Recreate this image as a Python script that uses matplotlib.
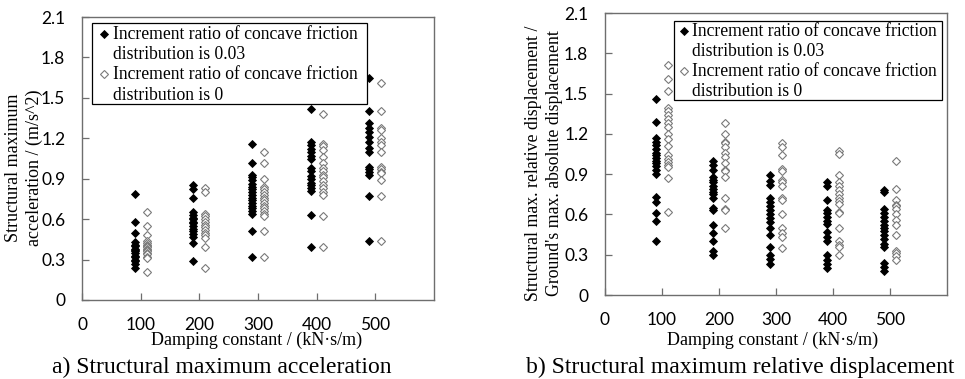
import matplotlib
matplotlib.use("Agg")
import matplotlib.pyplot as plt
from matplotlib.patches import Rectangle
import numpy as np

# Damping constants (kN·s/m) of the five test groups
damping = [100, 200, 300, 400, 500]

# Structural maximum acceleration (m/s^2), increment ratio 0.03
acc_r003 = [
    [0.79, 0.58, 0.50, 0.43, 0.41, 0.40, 0.38, 0.37, 0.36, 0.35, 0.33, 0.32, 0.30, 0.29, 0.27, 0.24],
    [0.85, 0.82, 0.76, 0.65, 0.63, 0.61, 0.60, 0.58, 0.57, 0.55, 0.53, 0.51, 0.49, 0.47, 0.42, 0.29],
    [1.16, 1.02, 0.93, 0.91, 0.89, 0.86, 0.84, 0.82, 0.80, 0.78, 0.76, 0.74, 0.72, 0.70, 0.68, 0.66, 0.64, 0.51, 0.32],
    [1.42, 1.17, 1.15, 1.12, 1.10, 1.07, 1.05, 0.98, 0.96, 0.92, 0.90, 0.87, 0.85, 0.83, 0.81, 0.63, 0.39],
    [1.65, 1.40, 1.31, 1.28, 1.25, 1.21, 1.17, 1.13, 1.10, 0.99, 0.97, 0.95, 0.93, 0.77, 0.44],
]
# Structural maximum acceleration (m/s^2), increment ratio 0
acc_r0 = [
    [0.65, 0.55, 0.48, 0.44, 0.42, 0.41, 0.40, 0.39, 0.38, 0.37, 0.36, 0.35, 0.34, 0.32, 0.31, 0.21],
    [0.83, 0.80, 0.64, 0.62, 0.60, 0.58, 0.56, 0.54, 0.52, 0.50, 0.48, 0.46, 0.39, 0.24],
    [1.10, 1.02, 0.90, 0.84, 0.82, 0.80, 0.78, 0.76, 0.74, 0.72, 0.70, 0.68, 0.66, 0.64, 0.62, 0.51, 0.32],
    [1.38, 1.16, 1.14, 1.11, 1.06, 1.02, 0.98, 0.96, 0.93, 0.91, 0.88, 0.85, 0.83, 0.80, 0.78, 0.62, 0.39],
    [1.61, 1.40, 1.28, 1.26, 1.20, 1.17, 1.15, 1.10, 0.99, 0.97, 0.95, 0.94, 0.89, 0.77, 0.44],
]

# Structural max. relative displacement / ground's max. absolute displacement, ratio 0.03
disp_r003 = [
    [1.46, 1.29, 1.17, 1.14, 1.12, 1.09, 1.06, 1.04, 1.02, 1.00, 0.98, 0.96, 0.93, 0.90, 0.73, 0.69, 0.61, 0.55, 0.40],
    [1.00, 0.97, 0.93, 0.88, 0.86, 0.84, 0.81, 0.79, 0.77, 0.75, 0.72, 0.65, 0.63, 0.52, 0.46, 0.40, 0.33, 0.30],
    [0.89, 0.85, 0.82, 0.72, 0.69, 0.66, 0.63, 0.60, 0.57, 0.54, 0.50, 0.45, 0.36, 0.30, 0.27, 0.23],
    [0.84, 0.81, 0.71, 0.63, 0.61, 0.58, 0.55, 0.53, 0.47, 0.43, 0.40, 0.30, 0.26, 0.23, 0.20],
    [0.78, 0.77, 0.64, 0.61, 0.58, 0.55, 0.52, 0.50, 0.48, 0.45, 0.42, 0.38, 0.36, 0.24, 0.21, 0.18],
]
# Same displacement ratio, increment ratio 0
disp_r0 = [
    [1.71, 1.61, 1.52, 1.39, 1.37, 1.34, 1.31, 1.28, 1.25, 1.20, 1.16, 1.11, 1.04, 1.01, 0.99, 0.97, 0.95, 0.87, 0.62],
    [1.28, 1.20, 1.14, 1.13, 1.10, 1.06, 1.03, 0.98, 0.93, 0.92, 0.88, 0.72, 0.64, 0.63, 0.50],
    [1.13, 1.10, 1.04, 0.94, 0.92, 0.86, 0.84, 0.81, 0.72, 0.71, 0.60, 0.50, 0.46, 0.43, 0.35],
    [1.07, 1.05, 0.89, 0.84, 0.81, 0.78, 0.75, 0.72, 0.70, 0.68, 0.62, 0.61, 0.50, 0.40, 0.37, 0.36, 0.30],
    [1.00, 0.79, 0.71, 0.67, 0.66, 0.64, 0.60, 0.56, 0.52, 0.45, 0.33, 0.31, 0.29, 0.26],
]

x_ticks = [0, 100, 200, 300, 400, 500]
x_tick_labels = ["0", "100", "200", "300", "400", "500"]
y_ticks = [0, 0.3, 0.6, 0.9, 1.2, 1.5, 1.8, 2.1]
y_tick_labels = ["0", "0.3", "0.6", "0.9", "1.2", "1.5", "1.8", "2.1"]

legend_lines_003 = ["Increment ratio of concave friction", "distribution is 0.03"]
legend_lines_0 = ["Increment ratio of concave friction", "distribution is 0"]

x_label = "Damping constant / (kN\u00b7s/m)"
y_label_acc = "Structural maximum\nacceleration / (m/s^2)"
y_label_disp = "Structural max. relative displacement /\nGround's max. absolute displacement"
caption_acc = "a) Structural maximum acceleration"
caption_disp = "b) Structural maximum relative displacement"

SERIF = ["Liberation Serif", "DejaVu Serif"]
TICKFONT = ["Lato", "DejaVu Sans"]
FRAME = "#6e6e6e"
OPEN_EDGE = "#7a7a7a"
SHIFT = 10  # horizontal separation of the two series around each damping value

filled = dict(marker="D", linestyle="none", markersize=4.4,
              markerfacecolor="black", markeredgecolor="black", markeredgewidth=0.6)
hollow = dict(marker="D", linestyle="none", markersize=4.4,
              markerfacecolor="white", markeredgecolor=OPEN_EDGE, markeredgewidth=0.8)

fig = plt.figure(figsize=(9.65, 3.79), dpi=100)
ax1 = fig.add_axes([82 / 965, 79 / 379, 352 / 965, 283 / 379])
ax2 = fig.add_axes([605 / 965, 84 / 379, 342 / 965, 282 / 379])


def scatter_groups(ax, series_a, series_b):
    for d, vals in zip(damping, series_a):
        ax.plot(np.full(len(vals), d - SHIFT), vals, **filled, clip_on=False, zorder=3)
    for d, vals in zip(damping, series_b):
        ax.plot(np.full(len(vals), d + SHIFT), vals, **hollow, clip_on=False, zorder=3)


def style_axes(ax):
    ax.set_xlim(0, 600)
    ax.set_ylim(0, 2.1)
    ax.set_xticks(x_ticks)
    ax.set_xticklabels(x_tick_labels, fontfamily=TICKFONT, fontsize=12.5)
    ax.set_yticks(y_ticks)
    ax.set_yticklabels(y_tick_labels, fontfamily=TICKFONT, fontsize=12.5)
    ax.tick_params(axis="both", direction="in", length=5, width=0.9, color=FRAME)
    ax.tick_params(axis="x", pad=12)
    ax.tick_params(axis="y", pad=12)
    for sp in ax.spines.values():
        sp.set_color(FRAME)
        sp.set_linewidth(1.0)


def draw_key(ax, box, marker_x, text_x, line_ys):
    x0, y0, x1, y1 = box
    ax.add_patch(Rectangle((x0, y0), x1 - x0, y1 - y0, transform=ax.transAxes,
                           facecolor="white", edgecolor="black", linewidth=0.9,
                           zorder=5, clip_on=False))
    ax.plot([marker_x], [line_ys[0]], transform=ax.transAxes, **filled, zorder=6, clip_on=False)
    ax.plot([marker_x], [line_ys[2]], transform=ax.transAxes, **hollow, zorder=6, clip_on=False)
    for y, s in zip(line_ys, legend_lines_003 + legend_lines_0):
        ax.text(text_x, y, s, transform=ax.transAxes, ha="left", va="center",
                fontfamily=SERIF, fontsize=12.7, zorder=6)


scatter_groups(ax1, acc_r003, acc_r0)
scatter_groups(ax2, disp_r003, disp_r0)
style_axes(ax1)
style_axes(ax2)

draw_key(ax1, (0.028, 0.693, 0.810, 0.979), 0.0625, 0.088, [0.939, 0.868, 0.797, 0.724])
draw_key(ax2, (0.202, 0.691, 0.985, 0.972), 0.232, 0.255, [0.936, 0.865, 0.794, 0.723])

# axis titles and captions
fig.text(257 / 965, 1 - 340 / 379, x_label, ha="center", va="center", fontfamily=SERIF, fontsize=13)
fig.text(773 / 965, 1 - 340 / 379, x_label, ha="center", va="center", fontfamily=SERIF, fontsize=13)
fig.text(24 / 965, 1 - 168 / 379, y_label_acc, ha="center", va="center", rotation=90,
         fontfamily=SERIF, fontsize=13, linespacing=1.25)
fig.text(544 / 965, 1 - 163 / 379, y_label_disp, ha="center", va="center", rotation=90,
         fontfamily=SERIF, fontsize=12.8, linespacing=1.25)
fig.text(222 / 965, 1 - 367 / 379, caption_acc, ha="center", va="center", fontfamily=SERIF, fontsize=17)
fig.text(740 / 965, 1 - 367 / 379, caption_disp, ha="center", va="center", fontfamily=SERIF, fontsize=17)

fig.savefig("out.png", dpi=100, facecolor="white")
